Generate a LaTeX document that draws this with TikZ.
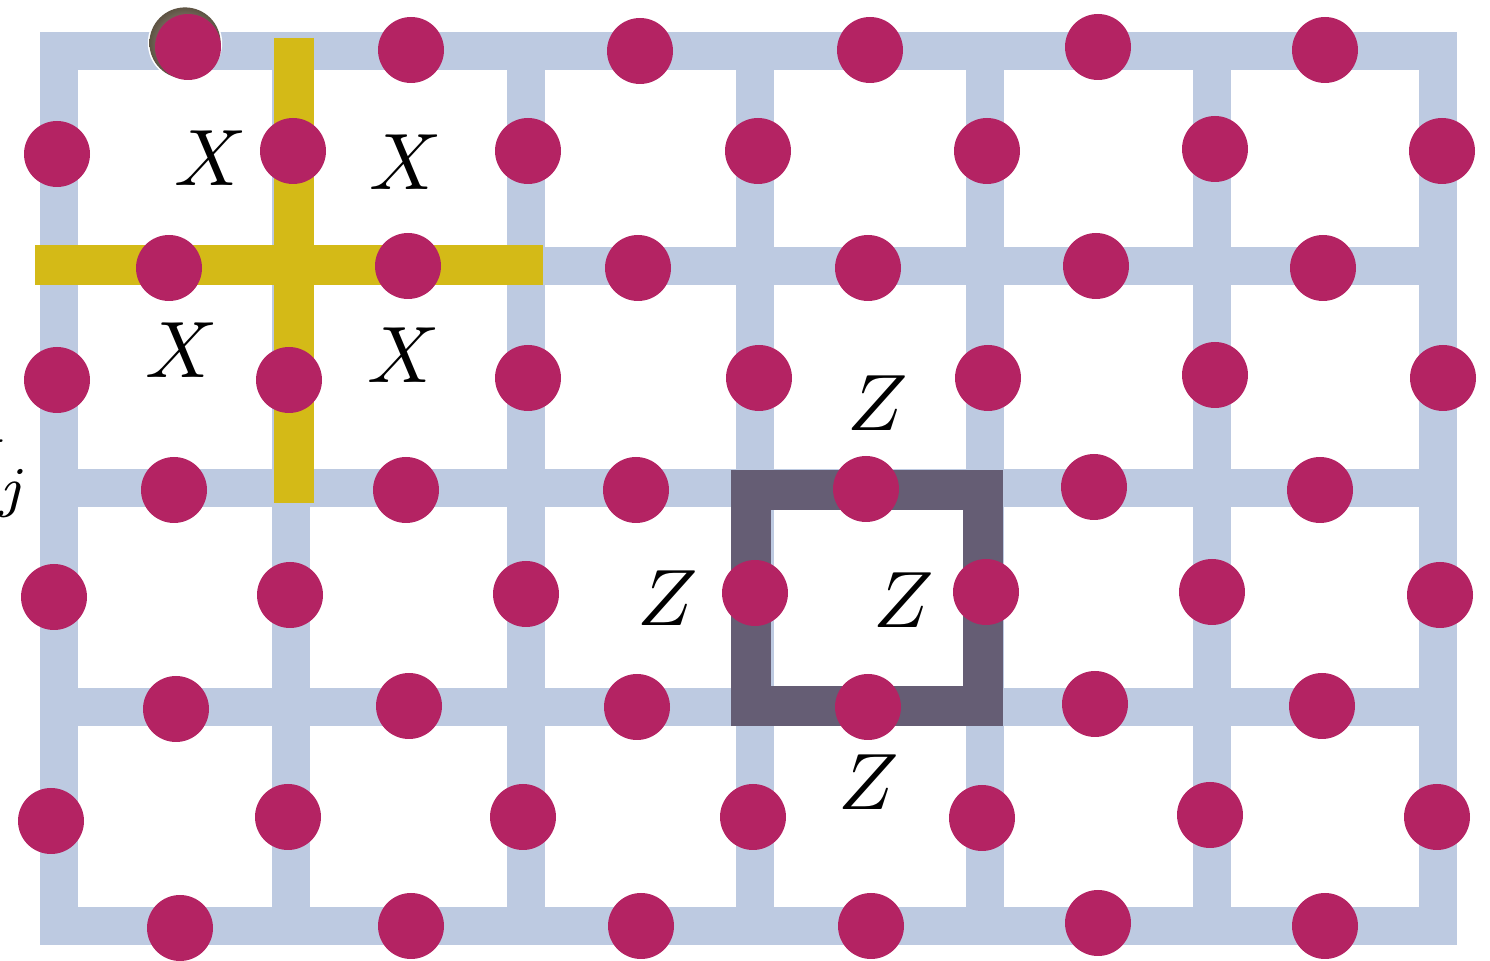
\documentclass[tikz,border=0pt]{standalone}
\definecolor{gridblue}{HTML}{BDCAE1}
\definecolor{qubit}{HTML}{B42363}
\definecolor{starcol}{HTML}{D4BA17}
\definecolor{plaqcol}{HTML}{655D74}
\definecolor{shadowbrown}{HTML}{5E5343}
\tikzset{
  gridline/.style={draw=gridblue, line width=19pt, line cap=butt, line join=miter},
  starline/.style={draw=starcol, line width=20pt, line cap=butt},
  plaqline/.style={draw=plaqcol, line width=20pt, line join=miter},
  qdot/.style={circle, fill=qubit, minimum size=33pt, inner sep=0pt},
  oplabel/.style={inner sep=0pt, scale=4},
}
\begin{document}
\begin{tikzpicture}[x=0.5pt, y=-0.5pt]
\useasboundingbox (0,0) rectangle (1490,961);
% lattice
\draw[gridline] (59,51) rectangle (1438,926);
\foreach \x in {291,526,755,985,1212} \draw[gridline] (\x,51) -- (\x,926);
\foreach \y in {266,488,707} \draw[gridline] (59,\y) -- (1438,\y);
% star operator
\draw[starline] (294,38) -- (294,503);
\draw[starline] (35,265) -- (543,265);
% plaquette operator
\draw[plaqline] (751,490) rectangle (983,706);
% shadow of the highlighted qubit
\fill[white] (185,43) circle (18.6pt);
\shade[inner color=shadowbrown!45, outer color=shadowbrown] (185,43) circle (17.8pt);
% qubits
\foreach \x/\y [count=\i] in {188/47,411/50,640/51,870/50,1098/47,1325/50}
  \node[qdot] (a\i) at (\x,\y) {};
\foreach \x/\y [count=\i] in {57/154,293/151,528/151,758/151,987/151,1215/149,1442/151}
  \node[qdot] (b\i) at (\x,\y) {};
\foreach \x/\y [count=\i] in {169/268,408/266,638/268,868/268,1096/266,1323/268}
  \node[qdot] (c\i) at (\x,\y) {};
\foreach \x/\y [count=\i] in {57/380,289/380,528/378,759/378,988/378,1215/375,1443/378}
  \node[qdot] (d\i) at (\x,\y) {};
\foreach \x/\y [count=\i] in {174/490,406/490,636/490,866/489,1094/487,1320/490}
  \node[qdot] (e\i) at (\x,\y) {};
\foreach \x/\y [count=\i] in {54/597,290/595,526/594,755/593,986/592,1212/592,1440/595}
  \node[qdot] (f\i) at (\x,\y) {};
\foreach \x/\y [count=\i] in {176/709,409/706,637/707,868/707,1095/704,1322/706}
  \node[qdot] (g\i) at (\x,\y) {};
\foreach \x/\y [count=\i] in {51/821,288/817,523/817,753/817,982/818,1210/815,1437/817}
  \node[qdot] (h\i) at (\x,\y) {};
\foreach \x/\y [count=\i] in {180/928,411/926,641/926,871/926,1098/923,1325/926}
  \node[qdot] (i\i) at (\x,\y) {};
% labels
\node[oplabel] (x1) at (211,158) {$X$};
\node[oplabel] (x2) at (406,162) {$X$};
\node[oplabel] (x3) at (182,350) {$X$};
\node[oplabel] (x4) at (404,355) {$X$};
\node[oplabel] (z1) at (878,403) {$Z$};
\node[oplabel] (z2) at (668,598) {$Z$};
\node[oplabel] (z3) at (904,600) {$Z$};
\node[oplabel] (z4) at (869,782) {$Z$};
\node[oplabel, anchor=base east] (vj) at (34,495) {$V_{\,j}$};
\end{tikzpicture}
\end{document}
